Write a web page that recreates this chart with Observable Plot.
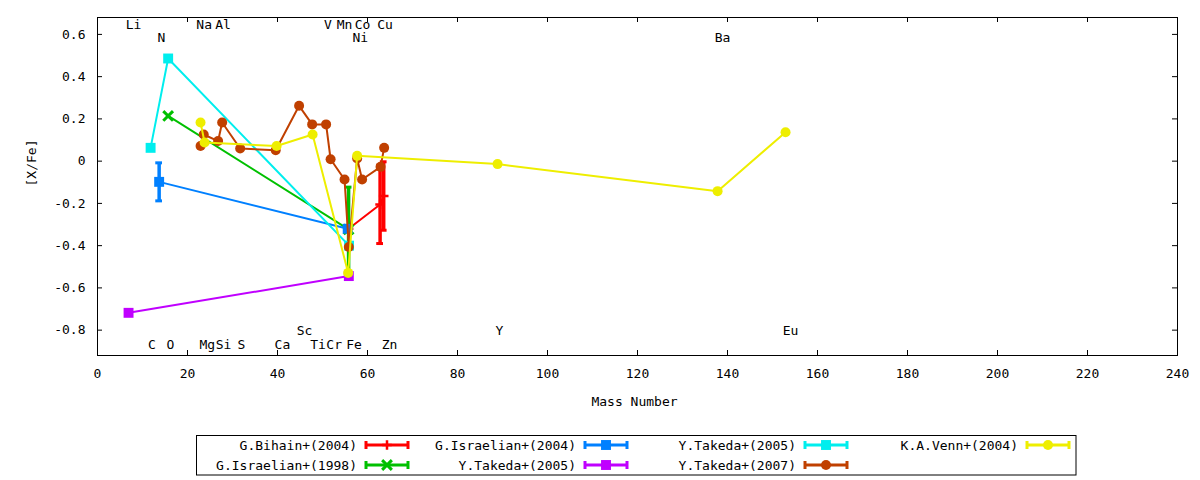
<!DOCTYPE html>
<html><head><meta charset="utf-8">
<script src="https://cdn.jsdelivr.net/npm/d3@7"></script>
<script src="https://cdn.jsdelivr.net/npm/@observablehq/plot@0.6"></script>
<style>
body{margin:0;background:#fff;font-family:"DejaVu Sans Mono",monospace;}
#chart{position:relative;width:1200px;height:480px;overflow:hidden;}
#legend{position:absolute;left:0;top:430px;}
</style></head><body><div id="chart"></div>
<script>
// ---- data ----
const seriesNames = ["G.Bihain+(2004)","G.Israelian+(1998)","G.Israelian+(2004)","Y.Takeda+(2005)","Y.Takeda+(2005)","Y.Takeda+(2007)","K.A.Venn+(2004)"];

const bihainMass = [55.8, 62.8, 63.6];
const bihainXFe  = [-0.32, -0.205, -0.165];
const bihainErr  = [0, 0.185, 0.162];

const israelian1998Mass = [15.7, 55.8];
const israelian1998XFe  = [0.214, -0.323];
const israelian1998Err  = [0, 0.2];

const israelian2004Mass = [13.7, 55.6];
const israelian2004XFe  = [-0.098, -0.32];
const israelian2004Err  = [0.09, 0];

const takeda2005aMass = [6.9, 55.85];
const takeda2005aXFe  = [-0.718, -0.544];

const takeda2005bMass = [11.8, 15.7, 55.9];
const takeda2005bXFe  = [0.063, 0.486, -0.40];

const takeda2007Mass = [22.9, 23.6, 26.8, 27.7, 31.7, 39.6, 44.8, 47.7, 50.8, 51.8, 54.9, 55.85, 57.7, 58.8, 62.9, 63.7];
const takeda2007XFe  = [0.072, 0.126, 0.095, 0.183, 0.060, 0.052, 0.262, 0.174, 0.174, 0.009, -0.087, -0.406, 0.013, -0.087, -0.027, 0.063];

const vennMass = [22.9, 23.8, 39.8, 47.8, 55.7, 57.7, 88.9, 137.8, 152.9];
const vennXFe  = [0.183, 0.088, 0.072, 0.126, -0.529, 0.025, -0.014, -0.142, 0.137];

const elementNames = ["Li","Na","Al","V","Mn","Co","Cu","N","Ni","Ba","Sc","Y","Eu","C","O","Mg","Si","S","Ca","Ti","Cr","Fe","Zn"];
const elementMass  = [8.0,23.7,27.9,51.2,54.9,58.9,63.9,14.2,58.4,138.9,46.0,89.3,154.0,12.1,16.2,24.4,28.0,32.0,41.1,49.0,52.6,57.0,64.9];
const elementXFe   = [0.645,0.645,0.645,0.645,0.645,0.645,0.645,0.584,0.584,0.584,-0.805,-0.805,-0.805,-0.871,-0.871,-0.871,-0.871,-0.871,-0.871,-0.871,-0.871,-0.871,-0.871];

const xTicks = [0,20,40,60,80,100,120,140,160,180,200,220,240];
const yTicks = [-0.8,-0.6,-0.4,-0.2,0,0.2,0.4,0.6];

// ---- styles ----
const colors  = ["#ff0000","#00c000","#0080ff","#c000ff","#00eeee","#c04000","#eeee00"];
const symbols = ["plus","times","square","square","square","circle","circle"];

const seriesData = [
  [bihainMass, bihainXFe, bihainErr],
  [israelian1998Mass, israelian1998XFe, israelian1998Err],
  [israelian2004Mass, israelian2004XFe, israelian2004Err],
  [takeda2005aMass, takeda2005aXFe, null],
  [takeda2005bMass, takeda2005bXFe, null],
  [takeda2007Mass, takeda2007XFe, null],
  [vennMass, vennXFe, null]
].map(([m, v, e], i) => m.map((mass, j) => ({s: i, mass, v: v[j], e: e ? e[j] : 0})));

const W = 1200, H = 430, mL = 97, mR = 23, mT = 17, mB = 75;
const fh = H - mT - mB, fw = W - mL - mR, tl = 5;
const fmt = d => d === 0 ? "0" : d.toFixed(1).replace("\u2212", "-");

const marks = [
  Plot.frame({stroke: "#000", strokeWidth: 1}),
  Plot.axisX(xTicks, {anchor: "bottom", tickSize: 0, tickPadding: 13, tickFormat: d => String(d), label: null, fontSize: 13}),
  Plot.axisY(yTicks, {anchor: "left", tickSize: 0, tickPadding: 12, tickFormat: fmt, label: null, fontSize: 13}),
  Plot.tickX(xTicks, {x: d => d, insetTop: fh - tl, stroke: "#000"}),
  Plot.tickX(xTicks, {x: d => d, insetBottom: fh - tl, stroke: "#000"}),
  Plot.tickY(yTicks, {y: d => d, insetLeft: fw - tl, stroke: "#000"}),
  Plot.tickY(yTicks, {y: d => d, insetRight: fw - tl, stroke: "#000"}),
  Plot.text(["Mass Number"], {frameAnchor: "bottom", text: d => d, dy: 50, dx: -3, fontSize: 13}),
  Plot.text(["[X/Fe]"], {frameAnchor: "left", text: d => d, dx: -66, rotate: -90, fontSize: 13}),
  Plot.text(elementNames.map((n, i) => ({n, m: elementMass[i], v: elementXFe[i]})), {x: "m", y: "v", text: "n", fontSize: 13, fill: "#000"})
];

seriesData.forEach((pts, i) => {
  const c = colors[i];
  marks.push(Plot.line(pts, {x: "mass", y: "v", stroke: c, strokeWidth: 2}));
  const errs = pts.filter(d => d.e > 0);
  if (errs.length) {
    marks.push(Plot.ruleX(errs, {x: "mass", y1: d => d.v - d.e, y2: d => d.v + d.e, stroke: c, strokeWidth: 3.5}));
    const caps = errs.flatMap(d => [{mass: d.mass, y: d.v - d.e}, {mass: d.mass, y: d.v + d.e}]);
    marks.push(Plot.ruleY(caps, {y: "y", x1: d => d.mass - 0.75, x2: d => d.mass + 0.75, stroke: c, strokeWidth: 3}));
  }
  const sym = symbols[i];
  if (sym === "plus") {
    marks.push(Plot.dot(pts, {x: "mass", y: "v", symbol: sym, r: 3.2, stroke: c, strokeWidth: 2.5, fill: "none"}));
  } else if (sym === "times") {
    marks.push(Plot.dot(pts, {x: "mass", y: "v", symbol: sym, r: 4.5, stroke: c, strokeWidth: 3, fill: "none"}));
  } else {
    marks.push(Plot.dot(pts, {x: "mass", y: "v", symbol: sym, r: sym === "square" ? 5.6 : 5, fill: c, stroke: "none"}));
  }
});

const chart = Plot.plot({
  width: W, height: H, marginLeft: mL, marginRight: mR, marginTop: mT, marginBottom: mB,
  style: {fontFamily: "DejaVu Sans Mono", fontSize: "13px", color: "#000", background: "#fff", overflow: "visible"},
  x: {domain: [0, 240]},
  y: {domain: [-0.92, 0.68]},
  marks
});
document.getElementById("chart").appendChild(chart);

// ---- legend ----
const leg = d3.select("#chart").append("svg").attr("id", "legend").attr("width", 1200).attr("height", 50)
  .style("font-family", "DejaVu Sans Mono").style("font-size", "13px");
leg.append("rect").attr("x", 196.5).attr("y", 5.5).attr("width", 879.5).attr("height", 39.5)
  .attr("fill", "none").attr("stroke", "#000");
const colX = [357, 576, 796, 1018];
const rowY = [15, 35];
seriesNames.forEach((name, i) => {
  const col = Math.floor(i / 2), row = i % 2;
  const x0 = colX[col], y = rowY[row], c = colors[i];
  leg.append("text").attr("x", x0).attr("y", y).attr("dy", "0.35em").attr("text-anchor", "end").text(name);
  const a = x0 + 9, b = x0 + 51, mid = (a + b) / 2;
  leg.append("line").attr("x1", a).attr("x2", b).attr("y1", y).attr("y2", y).attr("stroke", c).attr("stroke-width", 3);
  [a, b].forEach(xx => leg.append("line").attr("x1", xx).attr("x2", xx).attr("y1", y - 4).attr("y2", y + 4).attr("stroke", c).attr("stroke-width", 3));
  const sym = symbols[i];
  const symType = {plus: d3.symbolPlus, times: d3.symbolTimes, square: d3.symbolSquare, circle: d3.symbolCircle}[sym];
  const r = sym === "square" ? 5.6 : sym === "plus" ? 3.2 : sym === "times" ? 4.5 : 5;
  const p = leg.append("path").attr("transform", `translate(${mid},${y})`).attr("d", d3.symbol(symType, r * r * Math.PI)());
  if (sym === "plus" || sym === "times") p.attr("fill", "none").attr("stroke", c).attr("stroke-width", sym === "times" ? 3 : 2.5);
  else p.attr("fill", c);
});
</script>
</body></html>
